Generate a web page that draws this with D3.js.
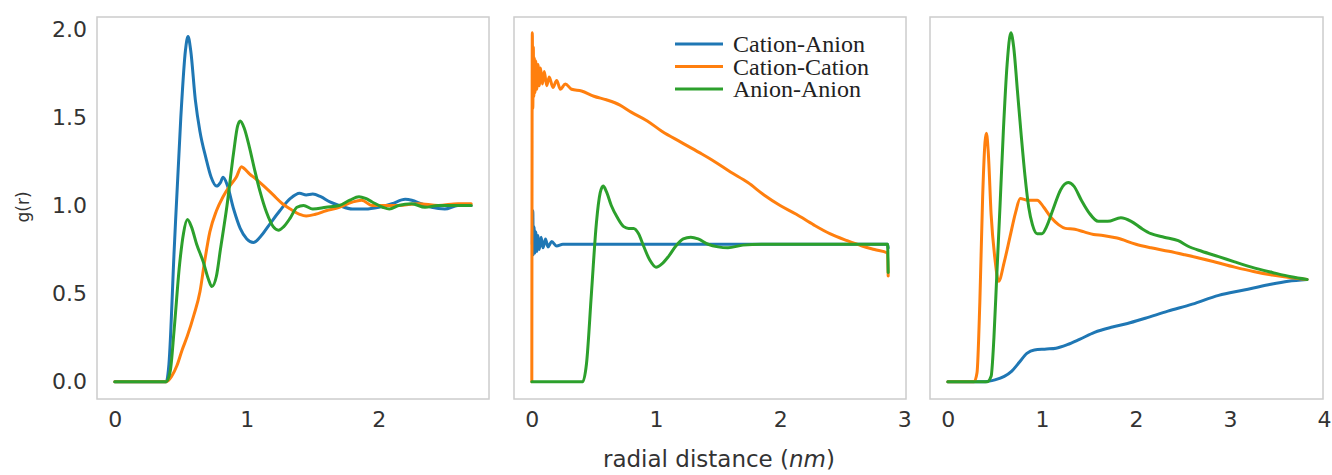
<!DOCTYPE html>
<html>
<head>
<meta charset="utf-8">
<script src="https://cdn.jsdelivr.net/npm/d3@7"></script>
<style>
  body { margin: 0; background: #fff; }
  text { font-family: "DejaVu Sans", sans-serif; }
</style>
</head>
<body>
<div id="plot-container"></div>
<script>
// series names and colours
const seriesNames = ["Cation-Anion", "Cation-Cation", "Anion-Anion"];
const seriesColors = ["#1f77b4", "#ff7f0e", "#2ca02c"];

// panel 1: [r, g(r)]
const p1CationAnion = [[0,0],[0.39,0],[0.41,0.1],[0.45,0.75],[0.5,1.5],[0.535,1.88],[0.555,1.96],[0.575,1.88],[0.61,1.6],[0.645,1.42],[0.69,1.27],[0.73,1.16],[0.77,1.11],[0.8,1.13],[0.82,1.16],[0.85,1.12],[0.9,0.98],[0.95,0.87],[1.0,0.81],[1.05,0.79],[1.1,0.82],[1.17,0.89],[1.25,0.97],[1.33,1.04],[1.4,1.07],[1.45,1.06],[1.5,1.065],[1.56,1.05],[1.63,1.02],[1.7,1.0],[1.8,0.98],[1.9,0.98],[2.0,0.99],[2.1,1.01],[2.2,1.035],[2.25,1.03],[2.32,1.01],[2.4,0.99],[2.5,0.98],[2.6,1.0],[2.7,1.0]];
const p1CationCation = [[0,0],[0.39,0],[0.43,0.03],[0.47,0.09],[0.51,0.18],[0.55,0.26],[0.6,0.38],[0.645,0.51],[0.68,0.68],[0.72,0.85],[0.77,0.97],[0.82,1.05],[0.87,1.11],[0.92,1.16],[0.96,1.22],[0.98,1.21],[1.02,1.18],[1.07,1.15],[1.13,1.11],[1.2,1.06],[1.27,1.01],[1.33,0.98],[1.4,0.95],[1.45,0.94],[1.52,0.95],[1.6,0.97],[1.7,0.99],[1.8,1.02],[1.87,1.03],[1.95,1.0],[2.05,1.0],[2.15,1.0],[2.3,1.01],[2.45,1.0],[2.6,1.01],[2.7,1.01]];
const p1AnionAnion = [[0,0],[0.39,0],[0.42,0.06],[0.45,0.3],[0.49,0.66],[0.52,0.84],[0.55,0.92],[0.58,0.88],[0.62,0.78],[0.67,0.68],[0.71,0.58],[0.735,0.54],[0.77,0.6],[0.8,0.75],[0.85,1.0],[0.9,1.3],[0.93,1.45],[0.95,1.48],[0.98,1.44],[1.02,1.33],[1.06,1.2],[1.1,1.08],[1.15,0.96],[1.2,0.88],[1.24,0.86],[1.28,0.88],[1.33,0.93],[1.38,0.99],[1.43,1.0],[1.5,0.98],[1.6,0.99],[1.7,1.0],[1.78,1.03],[1.85,1.05],[1.9,1.04],[1.95,1.02],[2.03,0.99],[2.08,0.98],[2.15,1.0],[2.25,1.01],[2.35,0.99],[2.45,1.0],[2.55,1.0],[2.7,1.0]];

// panel 2
const p2CationAnion = [[0.004,0.78],[0.008,0.97],[0.012,0.72],[0.018,0.88],[0.025,0.73],[0.032,0.85],[0.04,0.74],[0.05,0.83],[0.06,0.75],[0.075,0.82],[0.09,0.76],[0.11,0.81],[0.13,0.765],[0.16,0.795],[0.2,0.77],[0.25,0.78],[0.5,0.78],[1.0,0.78],[1.5,0.78],[2.0,0.78],[2.5,0.78],[2.865,0.78],[2.87,0.76]];
const p2CationCation = [[0,0],[0.004,1.98],[0.008,1.55],[0.012,1.9],[0.016,1.62],[0.02,1.84],[0.026,1.64],[0.032,1.82],[0.04,1.66],[0.05,1.8],[0.06,1.68],[0.07,1.78],[0.085,1.69],[0.1,1.76],[0.12,1.68],[0.14,1.73],[0.17,1.67],[0.2,1.71],[0.23,1.66],[0.27,1.69],[0.32,1.66],[0.4,1.65],[0.5,1.62],[0.6,1.6],[0.71,1.57],[0.8,1.53],[0.93,1.48],[1.05,1.42],[1.2,1.36],[1.35,1.3],[1.47,1.25],[1.6,1.19],[1.74,1.13],[1.87,1.06],[2.0,1.0],[2.13,0.95],[2.27,0.89],[2.4,0.84],[2.54,0.8],[2.66,0.77],[2.76,0.75],[2.865,0.73],[2.87,0.6]];
const p2AnionAnion = [[0,0],[0.41,0],[0.44,0.1],[0.48,0.5],[0.52,0.9],[0.55,1.07],[0.575,1.11],[0.6,1.08],[0.64,1.0],[0.69,0.93],[0.74,0.88],[0.78,0.87],[0.82,0.87],[0.86,0.84],[0.9,0.77],[0.95,0.69],[1.0,0.65],[1.05,0.67],[1.1,0.71],[1.16,0.77],[1.22,0.81],[1.28,0.82],[1.34,0.81],[1.42,0.78],[1.5,0.765],[1.58,0.76],[1.7,0.775],[1.85,0.78],[2.0,0.78],[2.4,0.78],[2.865,0.78],[2.87,0.62]];

// panel 3
const p3CationAnion = [[0,0],[0.4,0],[0.5,0.01],[0.6,0.03],[0.68,0.06],[0.76,0.11],[0.84,0.16],[0.92,0.18],[1.05,0.185],[1.15,0.19],[1.27,0.21],[1.4,0.24],[1.56,0.28],[1.75,0.31],[1.91,0.33],[2.1,0.36],[2.34,0.4],[2.6,0.44],[2.88,0.49],[3.15,0.52],[3.41,0.55],[3.62,0.57],[3.82,0.58]];
const p3CationCation = [[0,0],[0.28,0],[0.31,0.05],[0.34,0.45],[0.37,1.05],[0.395,1.36],[0.41,1.41],[0.43,1.3],[0.46,0.95],[0.5,0.7],[0.54,0.57],[0.6,0.68],[0.66,0.82],[0.72,0.96],[0.77,1.04],[0.85,1.03],[0.95,1.03],[1.02,0.99],[1.1,0.93],[1.18,0.89],[1.25,0.87],[1.35,0.865],[1.45,0.85],[1.55,0.835],[1.65,0.83],[1.8,0.815],[2.0,0.78],[2.16,0.76],[2.35,0.74],[2.52,0.72],[2.8,0.685],[3.05,0.65],[3.25,0.625],[3.45,0.605],[3.65,0.59],[3.82,0.58]];
const p3AnionAnion = [[0,0],[0.42,0],[0.46,0.03],[0.49,0.25],[0.52,0.6],[0.555,1.0],[0.59,1.42],[0.63,1.8],[0.67,1.98],[0.7,1.9],[0.74,1.65],[0.78,1.4],[0.82,1.17],[0.86,0.99],[0.9,0.89],[0.95,0.84],[1.0,0.84],[1.05,0.88],[1.12,0.98],[1.2,1.09],[1.28,1.13],[1.34,1.11],[1.42,1.03],[1.5,0.96],[1.6,0.91],[1.7,0.91],[1.84,0.93],[1.95,0.91],[2.06,0.87],[2.16,0.84],[2.3,0.82],[2.45,0.8],[2.55,0.77],[2.7,0.74],[2.88,0.71],[3.05,0.68],[3.23,0.65],[3.45,0.62],[3.65,0.595],[3.82,0.58]];

// tick labels
const yTicks = [0, 0.5, 1.0, 1.5, 2.0];
const p1XTicks = [0, 1, 2];
const p2XTicks = [0, 1, 2, 3];
const p3XTicks = [0, 1, 2, 3, 4];

const W = 1332, H = 475;
const plotTop = 17, plotBottom = 399;

const svg = d3.select("#plot-container")
  .append("svg")
  .attr("width", W)
  .attr("height", H);

// shared y scale
const y = d3.scaleLinear()
  .domain([-0.0985, 2.07])
  .range([plotBottom, plotTop]);

const panels = [
  { left: 97, right: 489, domain: [-0.135, 2.835], ticks: p1XTicks, series: [p1CationAnion, p1CationCation, p1AnionAnion], yAxis: true },
  { left: 514, right: 906, domain: [-0.1435, 3.0135], ticks: p2XTicks, series: [p2CationAnion, p2CationCation, p2AnionAnion], legend: true },
  { left: 930, right: 1323, domain: [-0.19, 3.99], ticks: p3XTicks, series: [p3CationAnion, p3CationCation, p3AnionAnion] }
];

panels.forEach((p, pi) => {
  const x = d3.scaleLinear().domain(p.domain).range([p.left, p.right]);
  const g = svg.append("g");

  g.append("clipPath").attr("id", "clip" + pi)
    .append("rect")
    .attr("x", p.left).attr("y", plotTop)
    .attr("width", p.right - p.left).attr("height", plotBottom - plotTop);

  const line = d3.line()
    .x(d => x(d[0]))
    .y(d => y(d[1]))
    .curve(d3.curveMonotoneX);

  g.append("g").attr("clip-path", "url(#clip" + pi + ")")
    .selectAll("path")
    .data(p.series)
    .enter()
    .append("path")
    .attr("d", line)
    .attr("fill", "none")
    .attr("stroke", (d, i) => seriesColors[i])
    .attr("stroke-width", 3)
    .attr("stroke-linejoin", "round")
    .attr("stroke-linecap", "round");

  // frame
  g.append("rect")
    .attr("x", p.left).attr("y", plotTop)
    .attr("width", p.right - p.left).attr("height", plotBottom - plotTop)
    .attr("fill", "none")
    .attr("stroke", "#cccccc")
    .attr("stroke-width", 1.5);

  // x axis, no tick marks
  const xAxis = g.append("g")
    .attr("transform", "translate(0," + plotBottom + ")")
    .call(d3.axisBottom(x).tickValues(p.ticks).tickFormat(d3.format("d")).tickSize(0).tickPadding(12));
  xAxis.select(".domain").remove();
  xAxis.selectAll("text")
    .attr("fill", "#333")
    .style("font-family", "DejaVu Sans")
    .style("font-size", "22px");

  if (p.yAxis) {
    const yAxis = g.append("g")
      .attr("transform", "translate(" + p.left + ",0)")
      .call(d3.axisLeft(y).tickValues(yTicks).tickFormat(d3.format(".1f")).tickSize(0).tickPadding(10));
    yAxis.select(".domain").remove();
    yAxis.selectAll("text")
      .attr("fill", "#333")
      .style("font-family", "DejaVu Sans")
      .style("font-size", "22px");
  }

  if (p.legend) {
    const legend = g.selectAll(".legend")
      .data(seriesNames)
      .enter().append("g")
      .attr("class", "legend")
      .attr("transform", (d, i) => "translate(675," + (44 + i * 22.5) + ")");

    legend.append("line")
      .attr("x1", 0).attr("x2", 48)
      .attr("stroke", (d, i) => seriesColors[i])
      .attr("stroke-width", 3);

    legend.append("text")
      .attr("x", 58)
      .attr("y", 8)
      .attr("fill", "#222")
      .style("font-family", "Liberation Serif, serif")
      .style("font-size", "24px")
      .text(d => d);
  }
});

// axis titles
svg.append("text")
  .attr("transform", "translate(29,207) rotate(-90)")
  .attr("text-anchor", "middle")
  .attr("fill", "#333")
  .style("font-size", "17px")
  .text("g(r)");

const xl = svg.append("text")
  .attr("x", 719)
  .attr("y", 467)
  .attr("text-anchor", "middle")
  .attr("fill", "#333")
  .style("font-size", "23px")
  .text("radial distance (");
xl.append("tspan").style("font-style", "italic").text("nm");
xl.append("tspan").text(")");
</script>
</body>
</html>
